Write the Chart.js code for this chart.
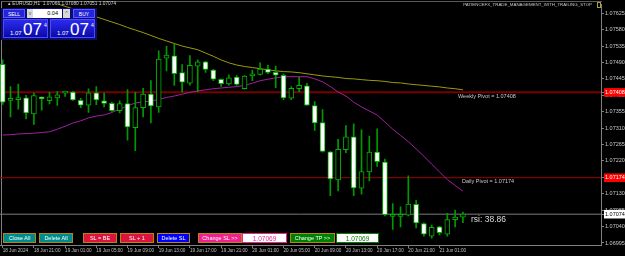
<!DOCTYPE html>
<html lang="en">
<head>
<meta charset="UTF-8">
<title>EURUSD H1</title>
<script src="https://cdn.jsdelivr.net/npm/chart.js"></script>
<style>
    html, body { margin: 0; padding: 0; background: #000; }
    body {
        width: 625px; height: 256px; overflow: hidden; position: relative;
        font-family: "Liberation Sans", Arial, sans-serif;
    }
    #frame {
        position: absolute; left: 1px; top: 1px; width: 600px; height: 244px;
        border-left: 1px solid #808080; border-top: 1px solid #5a5a5a;
    }
    #chart { position: absolute; left: 0; top: 0; }
    .ui { position: absolute; box-sizing: border-box; color: #fff; text-align: center; white-space: nowrap; }
    .info { left: 8px; top: 1px; font-size: 4.8px; color: #d0d0d0; text-align: left; }
    .ea { right: 33px; top: 2px; font-size: 4.4px; color: #c8c8c8; }
    .panel { left: 1px; top: 8px; width: 96px; height: 32px; background: #0c0c70; }
    .btn-top { top: 9px; height: 9px; line-height: 8px; font-size: 5px; background: #2424d8; border: 1px solid #5a5aff; }
    .spin { top: 9px; height: 9px; line-height: 8px; font-size: 5px; background: #d8d8d8; color: #555; }
    .lot { top: 9px; height: 9px; line-height: 9px; font-size: 5.5px; background: #fff; color: #000; text-align: right; padding-right: 4px; }
    .price { top: 19px; width: 45px; height: 19px; background: linear-gradient(#2b2bf0, #0a0aa8); border: 1px solid #4a4aff; }
    .price .small { position: absolute; left: 6px; top: 10px; font-size: 6px; }
    .price .big { position: absolute; left: 19px; top: 0px; font-size: 17px; line-height: 19px; }
    .price .sup { position: absolute; left: 40px; top: 2px; font-size: 5px; }
    .bb { top: 233px; height: 10px; line-height: 9px; font-size: 5.5px; border: 1px solid #b8860b; }
    .edit { top: 233px; height: 10px; line-height: 9px; font-size: 6.5px; background: #fff; }
</style>
</head>
<body>
<div id="frame"></div>
<canvas id="chart" width="625" height="256"></canvas>

<!-- terminal overlays -->
<div class="ui info">&#9652; EURUSD,H1&nbsp; 1.07066 1.07080 1.07051 1.07074</div>
<div class="ui ea">PATIENCEFX_TRADE_MANAGEMENT_WITH_TRAILING_STOP</div>
<div class="ui" style="left:597px;top:2px;width:4px;height:6px;border:1px solid #b0a040;"></div>

<div class="ui panel"></div>
<div class="ui btn-top" style="left:3px;width:22px;">SELL</div>
<div class="ui spin" style="left:27px;width:6px;">v</div>
<div class="ui lot" style="left:33px;width:29px;">0.04</div>
<div class="ui spin" style="left:63px;width:7px;">^</div>
<div class="ui btn-top" style="left:73px;width:22px;">BUY</div>
<div class="ui price" style="left:3px;"><span class="small">1.07</span><span class="big">07</span><span class="sup">4</span></div>
<div class="ui price" style="left:50px;"><span class="small">1.07</span><span class="big">07</span><span class="sup">4</span></div>

<div class="ui bb" style="left:3px;width:33px;background:#008b8b;">Close All</div>
<div class="ui bb" style="left:39px;width:34px;background:#008b8b;">Delete All</div>
<div class="ui bb" style="left:83px;width:34px;background:#dc143c;">SL = BE</div>
<div class="ui bb" style="left:120px;width:34px;background:#dc143c;">SL + 1</div>
<div class="ui bb" style="left:157px;width:33px;background:#0000ff;">Delete SL</div>
<div class="ui bb" style="left:198px;width:44px;background:#f0208c;">Change SL &gt;&gt;</div>
<div class="ui edit" style="left:242px;width:45px;color:#f0208c;border:1px solid #f0208c;">1.07069</div>
<div class="ui bb" style="left:290px;width:45px;background:#008000;">Change TP &gt;&gt;</div>
<div class="ui edit" style="left:336px;width:43px;color:#008000;border:1px solid #008000;">1.07069</div>

<script>
// EURUSD H1 candles, 18 Jun 17:00 .. 21 Jun 04:00
const opens = [
    1.07485, 1.07386, 1.07388, 1.07393, 1.07349, 1.07394, 1.07385, 1.07393, 1.07406, 1.07409,
    1.07386, 1.07373, 1.07407, 1.07385, 1.07378, 1.07358, 1.07377, 1.07311, 1.07366, 1.07403,
    1.07368, 1.07502, 1.07508, 1.07462, 1.07433, 1.07480, 1.07492, 1.07469, 1.07444, 1.07431,
    1.07450, 1.07418, 1.07453, 1.07457, 1.07472, 1.07463, 1.07455, 1.07392, 1.07418, 1.07426,
    1.07372, 1.07325, 1.07245, 1.07168, 1.07251, 1.07286, 1.07145, 1.07190, 1.07244, 1.07217,
    1.07068, 1.07068, 1.07071, 1.07101, 1.07048, 1.07014, 1.07039, 1.07019, 1.07059, 1.07066
];
const highs = [
    1.07497, 1.07424, 1.07431, 1.07400, 1.07406, 1.07395, 1.07408, 1.07410, 1.07411, 1.07410,
    1.07392, 1.07418, 1.07424, 1.07406, 1.07381, 1.07385, 1.07416, 1.07408, 1.07419, 1.07440,
    1.07522, 1.07534, 1.07540, 1.07484, 1.07509, 1.07497, 1.07493, 1.07471, 1.07445, 1.07456,
    1.07454, 1.07454, 1.07469, 1.07489, 1.07483, 1.07480, 1.07459, 1.07424, 1.07449, 1.07433,
    1.07383, 1.07361, 1.07246, 1.07279, 1.07317, 1.07322, 1.07305, 1.07288, 1.07308, 1.07225,
    1.07103, 1.07094, 1.07179, 1.07112, 1.07050, 1.07044, 1.07041, 1.07076, 1.07085, 1.07080
];
const lows = [
    1.07375, 1.07341, 1.07362, 1.07335, 1.07320, 1.07359, 1.07376, 1.07372, 1.07397, 1.07386,
    1.07366, 1.07353, 1.07374, 1.07368, 1.07356, 1.07352, 1.07277, 1.07248, 1.07341, 1.07324,
    1.07353, 1.07467, 1.07427, 1.07409, 1.07428, 1.07410, 1.07463, 1.07440, 1.07424, 1.07428,
    1.07427, 1.07417, 1.07440, 1.07455, 1.07459, 1.07421, 1.07388, 1.07388, 1.07410, 1.07372,
    1.07304, 1.07244, 1.07125, 1.07138, 1.07243, 1.07125, 1.07129, 1.07165, 1.07205, 1.07069,
    1.07032, 1.07039, 1.07069, 1.07036, 1.07014, 1.07008, 1.07017, 1.07014, 1.07039, 1.07051
];
const closes = [
    1.07381, 1.07387, 1.07393, 1.07352, 1.07399, 1.07390, 1.07396, 1.07401, 1.07410, 1.07387,
    1.07373, 1.07407, 1.07387, 1.07378, 1.07358, 1.07377, 1.07313, 1.07366, 1.07403, 1.07371,
    1.07499, 1.07510, 1.07459, 1.07436, 1.07482, 1.07492, 1.07471, 1.07444, 1.07432, 1.07448,
    1.07430, 1.07453, 1.07459, 1.07472, 1.07463, 1.07455, 1.07393, 1.07419, 1.07427, 1.07373,
    1.07324, 1.07246, 1.07171, 1.07252, 1.07286, 1.07146, 1.07191, 1.07244, 1.07218, 1.07073,
    1.07072, 1.07071, 1.07102, 1.07050, 1.07019, 1.07038, 1.07023, 1.07059, 1.07066, 1.07074
];

// slow moving average (olive) - enters from above the window
const maSlow = [
    null, null, null, null, null, null, 1.07658, 1.07651, 1.07644, 1.07637,
    1.07630, 1.07622, 1.07615, 1.07608, 1.07601, 1.07594, 1.07586, 1.07579, 1.07572, 1.07564,
    1.07556, 1.07549, 1.07542, 1.07535, 1.07530, 1.07525, 1.07516, 1.07507, 1.07497, 1.07489,
    1.07483, 1.07479, 1.07476, 1.07473, 1.07470, 1.07467, 1.07465, 1.07464, 1.07462, 1.07459,
    1.07456, 1.07453, 1.07451, 1.07449, 1.07446, 1.07445, 1.07443, 1.07441, 1.07440, 1.07438,
    1.07435, 1.07434, 1.07431, 1.07429, 1.07427, 1.07425, 1.07423, 1.07420, 1.07418, 1.07415
];
// fast moving average (magenta)
const maFast = [
    1.07291, 1.07292, 1.07294, 1.07295, 1.07296, 1.07298, 1.07300, 1.07307, 1.07315, 1.07324,
    1.07330, 1.07338, 1.07343, 1.07346, 1.07353, 1.07362, 1.07371, 1.07379, 1.07382, 1.07384,
    1.07389, 1.07394, 1.07398, 1.07403, 1.07408, 1.07412, 1.07415, 1.07418, 1.07420, 1.07422,
    1.07424, 1.07427, 1.07433, 1.07440, 1.07444, 1.07448, 1.07451, 1.07451, 1.07451, 1.07451,
    1.07445, 1.07437, 1.07424, 1.07409, 1.07398, 1.07381, 1.07368, 1.07357, 1.07346, 1.07327,
    1.07307, 1.07290, 1.07273, 1.07253, 1.07233, 1.07211, 1.07190, 1.07169, 1.07153, 1.07137
];

const weeklyPivot = 1.07408;
const dailyPivot = 1.07174;
const bidPrice = 1.07074;
const rsiValue = 38.86;

const priceTicks = [
    1.07625, 1.07580, 1.07535, 1.07490, 1.07445, 1.07400, 1.07355, 1.07310,
    1.07265, 1.07220, 1.07175, 1.07130, 1.07085, 1.07040, 1.06995
];
const timeTickIdx = [0, 4, 8, 12, 16, 20, 24, 28, 32, 36, 40, 44, 48, 52, 56];
const timeTickLabels = [
    '18 Jun 2024', '18 Jun 21:00', '19 Jun 01:00', '19 Jun 05:00', '19 Jun 09:00',
    '19 Jun 13:00', '19 Jun 17:00', '19 Jun 21:00', '20 Jun 01:00', '20 Jun 05:00',
    '20 Jun 09:00', '20 Jun 13:00', '20 Jun 17:00', '20 Jun 21:00', '21 Jun 01:00'
];

// visible window (bar index / price)
const xMin = -0.346, xMax = 76.7;
const yMin = 1.069895, yMax = 1.076495;

const isSpecial = v => v === weeklyPivot || v === dailyPivot || v === bidPrice;
const hline = p => [{ x: xMin - 1, y: p }, { x: xMax + 1, y: p }];

// free text drawn on the chart (pivot captions, rsi readout)
const chartText = {
    id: 'chartText',
    afterDatasetsDraw(chart) {
        const { ctx, scales } = chart;
        const y = scales.y;
        ctx.save();
        ctx.textBaseline = 'middle';
        ctx.fillStyle = '#c8c8c8';
        ctx.font = '5.5px "Liberation Sans"';
        ctx.fillText('Weekly Pivot = ' + weeklyPivot.toFixed(5), 458, y.getPixelForValue(weeklyPivot) + 4);
        ctx.fillText('Daily Pivot = ' + dailyPivot.toFixed(5), 462, y.getPixelForValue(dailyPivot) + 4);
        ctx.fillStyle = '#dcdcdc';
        ctx.font = '8.5px "Liberation Sans"';
        ctx.fillText('rsi: ' + rsiValue.toFixed(2), 471, y.getPixelForValue(bidPrice) + 5);
        ctx.restore();
    }
};

new Chart(document.getElementById('chart'), {
    type: 'bar',
    data: {
        datasets: [
            {
                type: 'line', data: hline(weeklyPivot), borderColor: '#7a0000', borderWidth: 2,
                pointRadius: 0, order: 5
            },
            {
                type: 'line', data: hline(dailyPivot), borderColor: '#a00000', borderWidth: 1,
                pointRadius: 0, order: 5
            },
            {
                type: 'line', data: hline(bidPrice), borderColor: '#7c7c7c', borderWidth: 1,
                pointRadius: 0, order: 5
            },
            {
                type: 'line', data: maSlow.map((v, i) => ({ x: i, y: v })), borderColor: '#9a9a10',
                borderWidth: 1, pointRadius: 0, order: 4
            },
            {
                type: 'line', data: maFast.map((v, i) => ({ x: i, y: v })), borderColor: '#a020a0',
                borderWidth: 1, pointRadius: 0, order: 4
            },
            {
                // wicks
                data: lows.map((l, i) => ({ x: i, y: [l, highs[i]] })),
                backgroundColor: '#009a00', barThickness: 1, borderWidth: 0,
                grouped: false, order: 2
            },
            {
                // bodies: white = bear, black with green border = bull
                data: opens.map((o, i) => ({ x: i, y: [o, closes[i]] })),
                backgroundColor: opens.map((o, i) => closes[i] < o ? '#ffffff' : '#000000'),
                borderColor: '#00b400', borderWidth: 1, borderSkipped: false,
                barThickness: 5, minBarLength: 2, grouped: false, order: 1
            }
        ]
    },
    options: {
        responsive: false,
        animation: false,
        devicePixelRatio: 1,
        layout: { padding: { top: 2, left: 0, right: 0, bottom: 0 } },
        plugins: { legend: { display: false }, tooltip: { enabled: false } },
        scales: {
            x: {
                type: 'linear', min: xMin, max: xMax, offset: false,
                grid: { display: true, offset: false, drawOnChartArea: false, tickLength: 3, color: '#808080' },
                border: { display: true, color: '#808080' },
                ticks: {
                    autoSkip: false, maxRotation: 0, align: 'start', padding: 0,
                    color: '#c0c0c0', font: { family: 'Liberation Sans', size: 4.6 },
                    callback: (v, i) => timeTickLabels[i]
                },
                afterBuildTicks: s => { s.ticks = timeTickIdx.map(v => ({ value: v })); },
                afterFit: s => { s.height = 11; }
            },
            y: {
                position: 'right', min: yMin, max: yMax,
                grid: { display: true, drawOnChartArea: false, tickLength: 3, color: '#808080' },
                border: { display: true, color: '#808080' },
                ticks: {
                    autoSkip: false, padding: 1,
                    font: { family: 'Liberation Sans', size: 5.5 },
                    color: c => c.tick.value === bidPrice ? '#000000' : (isSpecial(c.tick.value) ? '#ffffff' : '#c8c8c8'),
                    showLabelBackdrop: c => isSpecial(c.tick.value),
                    backdropColor: c => c.tick.value === bidPrice ? '#ffffff' : '#ff0000',
                    backdropPadding: { x: 1, y: 1 },
                    callback: v => v.toFixed(5)
                },
                afterBuildTicks: s => {
                    s.ticks = priceTicks.concat([weeklyPivot, dailyPivot, bidPrice]).map(v => ({ value: v }));
                },
                afterFit: s => { s.width = 24; }
            }
        }
    },
    plugins: [chartText]
});
</script>
</body>
</html>
